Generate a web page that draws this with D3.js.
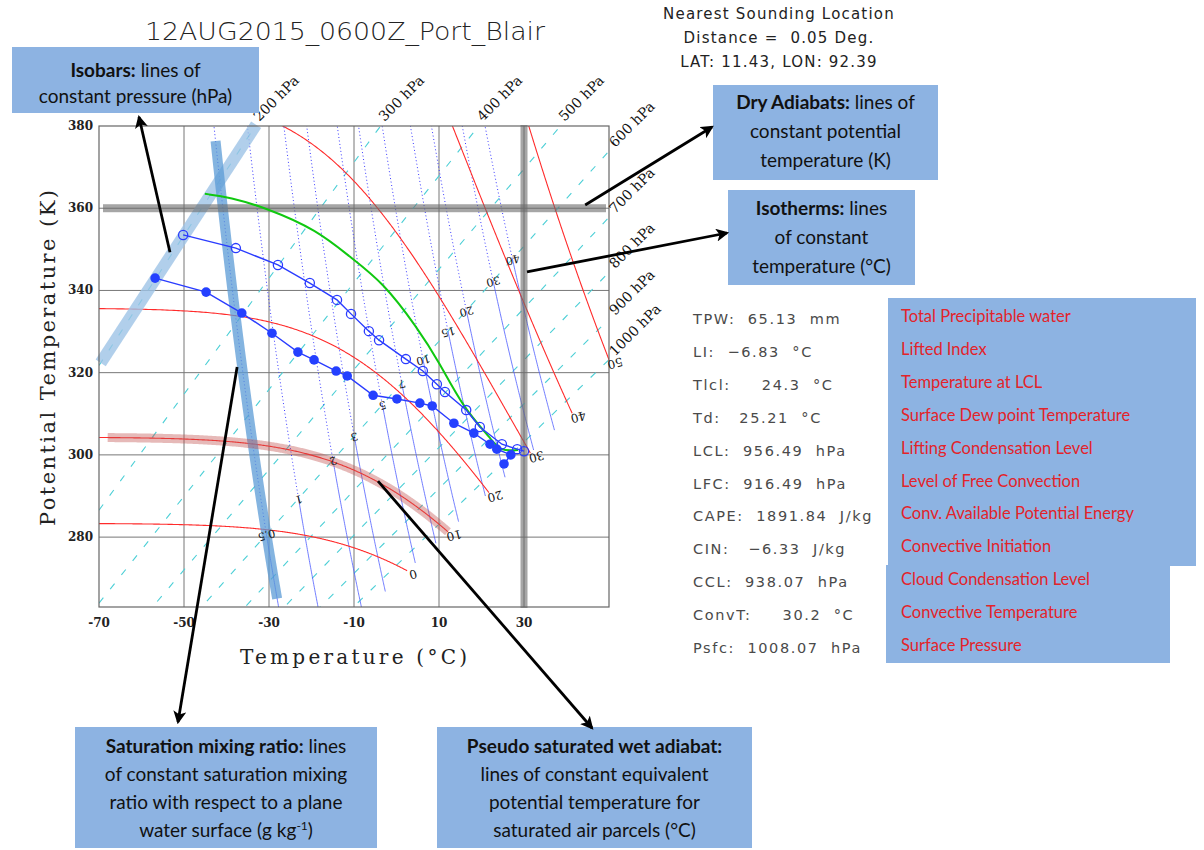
<!DOCTYPE html>
<html>
<head>
<meta charset="utf-8">
<title>theta-T diagram Port Blair</title>
<script src="https://cdn.jsdelivr.net/npm/d3@7"></script>
<style>
body { margin: 0; background: #fff; }
svg text { font-family: "DejaVu Sans", sans-serif; }
.serif { font-family: "DejaVu Serif", serif; }
.note text { font-family: Lato, "Open Sans", sans-serif; font-size: 19px; fill: #111; }
.meaning { font-family: Lato, "Open Sans", sans-serif; font-size: 16.5px; fill: #e3232a; }
.index { font-size: 14.5px; fill: #4a4a4a; letter-spacing: 1.6px; white-space: pre; }
</style>
</head>
<body>
<svg id="chart" width="1204" height="850"></svg>
<script>
// background line levels
var isobarLevels = [100, 200, 300, 400, 500, 600, 700, 800, 900, 1000];
var isobarLabels = [200, 300, 400, 500, 600, 700, 800, 900, 1000];
var mixingRatios = [0.5, 1, 2, 3, 5, 7, 10, 15, 20, 30, 40];
var wetAdiabats = [0, 10, 20, 30, 40, 50];
var xTicks = [-70, -50, -30, -10, 10, 30];
var yTicks = [280, 300, 320, 340, 360, 380];

// sounding (temperature in C, potential temperature in K)
var tempT = [-50.2, -37.8, -27.9, -20.4, -14.0, -10.7, -6.5, -4.1, 2.2, 6.2, 9.5, 11.4, 16.4, 19.6, 24.8, 28.4, 30.0];
var tempTheta = [353.5, 350.3, 346.2, 341.8, 337.7, 334.3, 330.1, 327.9, 323.3, 320.4, 317.2, 315.3, 310.9, 306.8, 302.6, 301.4, 300.9];
var dewT = [-56.8, -44.8, -36.4, -29.3, -23.2, -19.4, -14.2, -11.6, -5.5, 0.1, 5.5, 8.4, 13.5, 18.2, 22.0, 23.6, 26.9, 25.3];
var dewTheta = [343.0, 339.6, 334.5, 329.6, 325.0, 323.1, 320.4, 319.2, 314.5, 313.6, 312.6, 311.9, 307.7, 305.3, 302.6, 301.4, 300.0, 297.8];
var parcelT = [-45.1, -39.2, -30.5, -18.7, -10.9, -3.2, 4.8, 10.2, 15.6, 22.5, 24.4, 28.6];
var parcelTheta = [363.5, 362.7, 360.0, 354.7, 348.1, 342.0, 331.1, 322.3, 311.6, 303.6, 300.9, 301.2];

// indices panel
var indexRows = ['TPW:  65.13  mm', 'LI:  \u22126.83  \u00b0C', 'Tlcl:     24.3  \u00b0C', 'Td:   25.21  \u00b0C',
  'LCL:  956.49  hPa', 'LFC:  916.49  hPa', 'CAPE:  1891.84  J/kg', 'CIN:   \u22126.33  J/kg',
  'CCL:  938.07  hPa', 'ConvT:     30.2  \u00b0C', 'Psfc:  1008.07  hPa'];
var indexMeanings = ['Total Precipitable water', 'Lifted Index', 'Temperature at LCL', 'Surface Dew point Temperature',
  'Lifting Condensation Level', 'Level of Free Convection', 'Conv. Available Potential Energy', 'Convective Initiation',
  'Cloud Condensation Level', 'Convective Temperature', 'Surface Pressure'];

var svg = d3.select('#chart');
var x = d3.scaleLinear().domain([-70, 50]).range([99, 609]);
var y = d3.scaleLinear().domain([263, 380]).range([607, 126]);

// thermodynamics
var T0 = 273.15, KAPPA = 0.2857;
function theta(t, p) { return (t + T0) * Math.pow(1000 / p, KAPPA); }
function es(t) { return 6.112 * Math.exp(17.67 * t / (t + 243.5)); }
function tempFromW(w, p) {
  var e = w * p / (622 + w), l = Math.log(e / 6.112);
  return 243.5 * l / (17.67 - l);
}
function moistLapse(p, t) {
  var tk = t + T0, e = es(t), rs = 0.622 * e / (p - e), lv = 2.501e6;
  return (287.04 * tk + lv * rs) / (p * (1005.7 + lv * lv * rs * 0.622 / (287.04 * tk * tk)));
}
function integrate(t, p, pEnd, h) {
  var out = [];
  while ((h < 0 && p > pEnd) || (h > 0 && p < pEnd)) {
    var k1 = moistLapse(p, t), k2 = moistLapse(p + h / 2, t + h / 2 * k1),
        k3 = moistLapse(p + h / 2, t + h / 2 * k2), k4 = moistLapse(p + h, t + h * k3);
    t += h / 6 * (k1 + 2 * k2 + 2 * k3 + k4);
    p += h;
    out.push({ t: t, p: p });
  }
  return out;
}
function pseudoAdiabat(tw) {
  var up = integrate(tw, 1000, 100, -2), down = integrate(tw, 1000, 1050, 2);
  return down.reverse().concat([{ t: tw, p: 1000 }], up);
}

var line = d3.line().x(function(d) { return x(d.t); }).y(function(d) { return y(d.th); });
var smooth = d3.line().x(function(d) { return x(d.t); }).y(function(d) { return y(d.th); }).curve(d3.curveBasis);
function toTh(pts) { return pts.map(function(d) { return { t: d.t, th: theta(d.t, d.p), p: d.p }; }); }
function inPlot(d) { return d.t >= -70 && d.t <= 50 && d.th >= 263 && d.th <= 380; }

var defs = svg.append('defs');
defs.append('clipPath').attr('id', 'plot').append('rect')
  .attr('x', x(-70)).attr('y', y(380)).attr('width', x(50) - x(-70)).attr('height', y(263) - y(380));
defs.append('marker').attr('id', 'arrow').attr('viewBox', '0 0 12 12')
  .attr('refX', 10).attr('refY', 6).attr('markerWidth', 13).attr('markerHeight', 13)
  .attr('markerUnits', 'userSpaceOnUse').attr('orient', 'auto')
  .append('path').attr('d', 'M0,0 L12,6 L0,12 L3,6 Z').attr('fill', '#000');

// title and location
svg.append('text').attr('x', 345).attr('y', 40).attr('text-anchor', 'middle')
  .attr('font-size', 25).attr('font-weight', 300).attr('fill', '#222')
  .attr('textLength', 400).attr('lengthAdjust', 'spacingAndGlyphs')
  .text('12AUG2015_0600Z_Port_Blair');
['Nearest Sounding Location', 'Distance =  0.05 Deg.', 'LAT: 11.43, LON: 92.39'].forEach(function(s, i) {
  svg.append('text').attr('x', 779).attr('y', 19 + i * 24).attr('text-anchor', 'middle')
    .attr('font-size', 15).attr('fill', '#222').style('white-space', 'pre').style('letter-spacing', '1.2px').text(s);
});

var plot = svg.append('g').attr('clip-path', 'url(#plot)');

// grid
plot.selectAll('.gx').data(xTicks.slice(1)).enter().append('line')
  .attr('x1', function(d) { return x(d); }).attr('x2', function(d) { return x(d); })
  .attr('y1', y(380)).attr('y2', y(263)).attr('stroke', '#777').attr('stroke-width', 1);
plot.selectAll('.gy').data(yTicks.slice(0, -1)).enter().append('line')
  .attr('y1', function(d) { return y(d); }).attr('y2', function(d) { return y(d); })
  .attr('x1', x(-70)).attr('x2', x(50)).attr('stroke', '#777').attr('stroke-width', 1);

// isobars
plot.selectAll('.isobar').data(isobarLevels).enter().append('path')
  .attr('d', function(p) { return line([{ t: -70, th: theta(-70, p) }, { t: 50, th: theta(50, p) }]); })
  .attr('fill', 'none').attr('stroke', '#4ccfd6').attr('stroke-width', 1.1).attr('stroke-dasharray', '7,11');

// saturation mixing ratio lines
var ratioLines = mixingRatios.map(function(w) {
  return d3.range(100, 1051, 5).map(function(p) { var t = tempFromW(w, p); return { t: t, th: theta(t, p), p: p }; });
});
plot.selectAll('.wdot').data(ratioLines).enter().append('path')
  .attr('d', function(d) { return line(d.filter(function(e) { return e.p <= 600; })); })
  .attr('fill', 'none').attr('stroke', '#3a3aff').attr('stroke-width', 1).attr('stroke-dasharray', '1,2.5');
plot.selectAll('.wsol').data(ratioLines).enter().append('path')
  .attr('d', function(d) { return line(d.filter(function(e) { return e.p >= 600; })); })
  .attr('fill', 'none').attr('stroke', '#4d5cff').attr('stroke-width', 0.8);

// pseudo wet adiabats
var wetLines = wetAdiabats.map(function(tw) { return toTh(pseudoAdiabat(tw)); });
plot.selectAll('.wet').data(wetLines).enter().append('path')
  .attr('d', line).attr('fill', 'none').attr('stroke', '#ff2b2b').attr('stroke-width', 1.1);

// highlight bands
var band200 = [{ t: -69.6, th: theta(-69.6, 200) }, { t: 380.3 / Math.pow(5, KAPPA) - T0, th: 380.3 }];
svg.append('path').attr('d', line(band200)).attr('stroke', '#9dc3e6').attr('stroke-width', 12)
  .attr('opacity', 0.8).attr('fill', 'none');
svg.append('path').attr('d', line(ratioLines[0].filter(function(d) { return d.th <= 377 && d.th >= 265; })))
  .attr('stroke', '#5b9bd5').attr('stroke-width', 10).attr('opacity', 0.75).attr('fill', 'none');
svg.append('path').attr('d', line(wetLines[1].filter(function(d) { return d.t >= -68.3 && d.th >= 263; })))
  .attr('stroke', '#c0504d').attr('stroke-width', 9).attr('opacity', 0.4).attr('fill', 'none');
svg.append('rect').attr('x', 103).attr('y', y(360) - 4).attr('width', 503).attr('height', 8)
  .attr('fill', '#6a6a6a').attr('opacity', 0.6);
svg.append('rect').attr('x', x(30) - 3.5).attr('y', y(380) - 1).attr('width', 7).attr('height', y(263) - y(380) + 2)
  .attr('fill', '#6a6a6a').attr('opacity', 0.6);

// frame
svg.append('rect').attr('x', x(-70)).attr('y', y(380)).attr('width', x(50) - x(-70)).attr('height', y(263) - y(380))
  .attr('fill', 'none').attr('stroke', '#666').attr('stroke-width', 1.2);

// labels on background lines
mixingRatios.forEach(function(w) {
  var t = tempFromW(w, 600);
  svg.append('text').attr('class', 'serif').attr('font-size', 11).attr('fill', '#111')
    .attr('text-anchor', 'middle').attr('dominant-baseline', 'middle')
    .attr('transform', 'translate(' + x(t) + ',' + y(theta(t, 600)) + ') rotate(165)').text(w);
});
wetLines.forEach(function(pts, i) {
  var vis = pts.filter(inPlot), end = vis[0];
  svg.append('text').attr('class', 'serif').attr('font-size', 12).attr('fill', '#111')
    .attr('text-anchor', 'middle').attr('dominant-baseline', 'middle')
    .attr('transform', 'translate(' + (x(end.t) + 6) + ',' + (y(end.th) + 3) + ') rotate(165)').text(wetAdiabats[i]);
});
isobarLabels.forEach(function(p) {
  var f = Math.pow(1000 / p, KAPPA), t = 380 / f - T0, px, py;
  if (t <= 50) { px = x(t) + 4; py = y(380) - 4; } else { px = x(50) + 6; py = y((50 + T0) * f) - 3; }
  svg.append('text').attr('class', 'serif').attr('font-size', 14).attr('fill', '#111')
    .attr('transform', 'translate(' + px + ',' + py + ') rotate(-45)').text(p + ' hPa');
});

// sounding
function pairs(ts, ths) { return ts.map(function(t, i) { return { t: t, th: ths[i] }; }); }
var temp = pairs(tempT, tempTheta), dew = pairs(dewT, dewTheta), parcel = pairs(parcelT, parcelTheta);
svg.append('path').attr('d', smooth(parcel)).attr('fill', 'none')
  .attr('stroke', '#10c810').attr('stroke-width', 2);
svg.append('path').attr('d', line(temp)).attr('fill', 'none').attr('stroke', '#2a3cff').attr('stroke-width', 1.4);
svg.append('path').attr('d', line(dew)).attr('fill', 'none').attr('stroke', '#2a3cff').attr('stroke-width', 1.4);
svg.selectAll('.tdot').data(temp).enter().append('circle')
  .attr('cx', function(d) { return x(d.t); }).attr('cy', function(d) { return y(d.th); }).attr('r', 4.6)
  .attr('fill', 'none').attr('stroke', '#2a3cff').attr('stroke-width', 1.3);
svg.selectAll('.ddot').data(dew).enter().append('circle')
  .attr('cx', function(d) { return x(d.t); }).attr('cy', function(d) { return y(d.th); }).attr('r', 4.8)
  .attr('fill', '#2440ff');

// axes
svg.selectAll('.xt').data(xTicks).enter().append('text').attr('class', 'serif')
  .attr('x', function(d) { return x(d); }).attr('y', 627).attr('text-anchor', 'middle')
  .attr('font-size', 12).attr('font-weight', 'bold').attr('fill', '#222').text(function(d) { return d; });
svg.selectAll('.yt').data(yTicks).enter().append('text').attr('class', 'serif')
  .attr('x', 93).attr('y', function(d) { return y(d) + 4; }).attr('text-anchor', 'end')
  .attr('font-size', 12).attr('font-weight', 'bold').attr('fill', '#222').text(function(d) { return d; });
svg.append('text').attr('class', 'serif').attr('x', 240).attr('y', 664).attr('font-size', 20).attr('fill', '#222')
  .attr('textLength', 227).attr('lengthAdjust', 'spacing').text('Temperature (\u00b0C)');
svg.append('text').attr('class', 'serif').attr('font-size', 21).attr('fill', '#222')
  .attr('transform', 'translate(55,526) rotate(-90)')
  .attr('textLength', 336).attr('lengthAdjust', 'spacing').text('Potential Temperature (K)');

// indices table
indexRows.forEach(function(s, i) {
  svg.append('text').attr('class', 'index').attr('x', 693).attr('y', 324 + i * 32.9).text(s);
});
svg.append('rect').attr('x', 888).attr('y', 298).attr('width', 308).attr('height', 268).attr('fill', '#8db3e2');
svg.append('rect').attr('x', 886).attr('y', 565).attr('width', 284).attr('height', 98).attr('fill', '#8db3e2');
indexMeanings.forEach(function(s, i) {
  svg.append('text').attr('class', 'meaning').attr('x', 901).attr('y', 322 + i * 32.9).text(s);
});

// annotation boxes
function note(x0, y0, w, h, lines, lead) {
  var g = svg.append('g').attr('class', 'note');
  g.append('rect').attr('x', x0).attr('y', y0).attr('width', w).attr('height', h).attr('fill', '#8db3e2');
  lines.forEach(function(s, i) {
    var t = g.append('text').attr('x', x0 + w / 2).attr('y', lead[0] + i * lead[1]).attr('text-anchor', 'middle');
    if (Array.isArray(s)) {
      t.append('tspan').attr('font-weight', 'bold').text(s[0]);
      t.append('tspan').text(s[1]);
    } else t.text(s);
  });
  return g;
}
note(12, 47, 247, 66, [['Isobars:', ' lines of'], 'constant pressure (hPa)'], [77, 26]);
note(713, 85, 225, 95, [['Dry Adiabats:', ' lines of'], 'constant potential', 'temperature (K)'], [109, 29]);
note(728, 190, 187, 95, [['Isotherms:', ' lines'], 'of constant', 'temperature (\u00b0C)'], [215, 29]);
var sat = note(75, 727, 302, 121, [['Saturation mixing ratio:', ' lines'], 'of constant saturation mixing',
  'ratio with respect to a plane', 'water surface (g kg'], [753, 28]);
sat.select('text:last-of-type').append('tspan').attr('font-size', 12).attr('dy', -7).text('-1');
sat.select('text:last-of-type').append('tspan').attr('dy', 7).text(')');
note(437, 727, 315, 121, [['Pseudo saturated wet adiabat:', ''], 'lines of constant equivalent',
  'potential temperature for', 'saturated air parcels (\u00b0C)'], [753, 28]);

// arrows
var arrows = [
  [[-53.3, 349.3], [139, 117]],
  [[44.4, 360.8], [712, 127]],
  [[30.7, 344.5], [727, 233]],
  [[-37.5, 321.4], [178, 722]],
  [[-4.35, 293.6], [592, 728]]
];
arrows.forEach(function(a) {
  svg.append('line').attr('x1', x(a[0][0])).attr('y1', y(a[0][1])).attr('x2', a[1][0]).attr('y2', a[1][1])
    .attr('stroke', '#000').attr('stroke-width', 2.8).attr('marker-end', 'url(#arrow)');
});
</script>
</body>
</html>
